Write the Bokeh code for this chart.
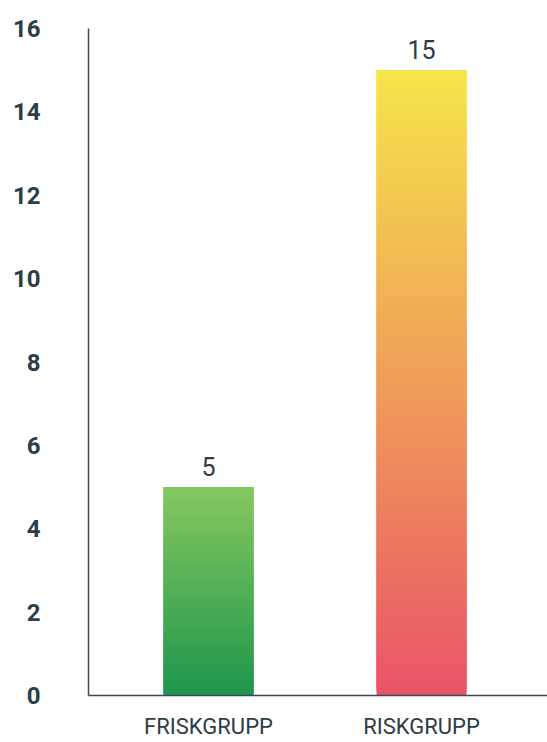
from bokeh.plotting import figure
from bokeh.models import Range1d, FixedTicker, ColumnDataSource
from bokeh.core.properties import value
from bokeh.embed import file_html
from bokeh.resources import INLINE

categories = ["FRISKGRUPP", "RISKGRUPP"]
values = [5, 15]
y_ticks = [0, 2, 4, 6, 8, 10, 12, 14, 16]

# gradient end colours per bar (bottom, top)
grad = [((30, 150, 76), (134, 200, 96)),
        ((234, 84, 104), (245, 230, 74))]

TEXT = "#2c3d47"
AXIS = "#3b4a52"
FONT = "Roboto"

positions = list(range(len(categories)))

p = figure(width=547, height=742, output_backend="svg", toolbar_location=None,
           x_range=Range1d(-0.5634, 1.5915),
           y_range=Range1d(0, 16),
           min_border_left=88, min_border_right=0, min_border_top=28,
           min_border_bottom=47)
p.outline_line_color = None
p.xgrid.grid_line_color = None
p.ygrid.grid_line_color = None

# gradient bars drawn as thin stacked slices (each overlaps the next)
n = 160
xs, bottoms, tops, colors = [], [], [], []
for pos, v, (c0, c1) in zip(positions, values, grad):
    for k in range(n):
        t = k / (n - 1)
        r = round(c0[0] + (c1[0] - c0[0]) * t)
        g = round(c0[1] + (c1[1] - c0[1]) * t)
        b = round(c0[2] + (c1[2] - c0[2]) * t)
        xs.append(pos)
        bottoms.append(v * k / n)
        tops.append(v * min(k + 3, n) / n)
        colors.append("#%02x%02x%02x" % (r, g, b))
src = ColumnDataSource(dict(x=xs, bottom=bottoms, top=tops, color=colors))
p.vbar(x="x", bottom="bottom", top="top", width=0.4225, fill_color="color",
       line_color=None, source=src)

# value labels
lab = ColumnDataSource(dict(x=positions, y=values, t=[str(v) for v in values]))
p.text(x="x", y="y", text="t", source=lab, text_align="center",
       text_baseline="bottom", y_offset=-11, text_font=value(FONT),
       text_font_size="25px", text_color=TEXT)

p.yaxis.ticker = FixedTicker(ticks=y_ticks)
p.xaxis.ticker = FixedTicker(ticks=positions)
p.xaxis.major_label_overrides = {i: c for i, c in zip(positions, categories)}
for ax in (p.xaxis, p.yaxis):
    ax.major_tick_line_color = None
    ax.minor_tick_line_color = None
    ax.major_tick_out = 0
    ax.major_tick_in = 0
    ax.minor_tick_out = 0
    ax.axis_label_standoff = 0
    ax.axis_line_color = AXIS
    ax.axis_line_width = 1.5
    ax.major_label_text_color = TEXT
    ax.major_label_text_font = FONT

p.yaxis.major_label_text_font_size = "24px"
p.yaxis.major_label_text_font_style = "bold"
p.yaxis.major_label_standoff = 48
p.xaxis.major_label_text_font_size = "22px"
p.xaxis.major_label_standoff = 18

open("out.html", "w").write(file_html(p, INLINE))
